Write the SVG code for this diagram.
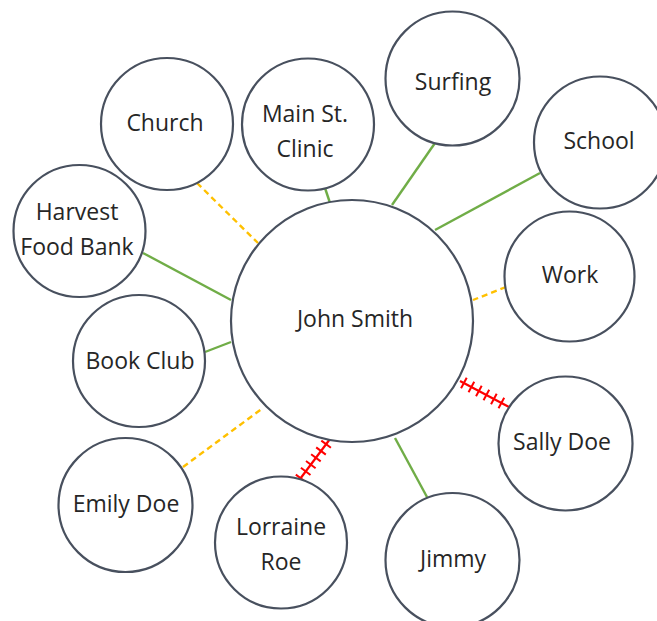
<svg xmlns="http://www.w3.org/2000/svg" width="657" height="621" viewBox="0 0 657 621">
<style>
.node circle{fill:#fff;stroke:#48505e;stroke-width:2.2}
.node text{font-family:"Open Sans","Liberation Sans",sans-serif;font-size:23px;fill:#262626;text-anchor:middle}
.green{stroke:#70ad47;stroke-width:2.4;fill:none}
.yellow{stroke:#ffc000;stroke-width:2.4;stroke-dasharray:6 4;fill:none}
.red{stroke:#ff0000;stroke-width:2.2;fill:none}
.ticks{stroke:#ff0000;stroke-width:12;stroke-dasharray:2 6.5;fill:none}
</style>
<rect width="657" height="621" fill="#fff"/>
<g id="connectors">
<line class="yellow" x1="197" y1="183" x2="258" y2="243"/>
<line class="green" x1="325" y1="188" x2="330" y2="203"/>
<line class="green" x1="435" y1="143" x2="392" y2="205"/>
<line class="green" x1="540" y1="173" x2="435" y2="230"/>
<line class="green" x1="143" y1="253" x2="231" y2="300"/>
<line class="yellow" x1="506" y1="287" x2="473" y2="300"/>
<line class="green" x1="205" y1="352" x2="231" y2="342"/>
<line class="yellow" x1="183" y1="467" x2="263" y2="408"/>
<line class="green" x1="395" y1="438" x2="427" y2="497"/>
<g id="lorraine-link">
<line class="red" x1="297" y1="483" x2="330" y2="439"/>
<line class="ticks" x1="300" y1="479" x2="327" y2="443"/>
</g>
<g id="sally-link">
<line class="red" x1="460" y1="381" x2="509" y2="407"/>
<line class="ticks" x1="463" y1="382.5" x2="506" y2="405.5"/>
</g>
</g>
<g id="john-smith" class="node"><circle cx="352" cy="321" r="121"/><text x="355" y="327">John Smith</text></g>
<g id="church" class="node"><circle cx="167" cy="124" r="66"/><text x="165" y="131">Church</text></g>
<g id="main-st-clinic" class="node"><circle cx="308" cy="124.5" r="66"/><text x="305" y="122">Main St.</text><text x="305" y="157">Clinic</text></g>
<g id="surfing" class="node"><circle cx="452.5" cy="78.5" r="67"/><text x="453" y="90">Surfing</text></g>
<g id="school" class="node"><circle cx="600" cy="142.5" r="66"/><text x="599" y="149">School</text></g>
<g id="harvest-food-bank" class="node"><circle cx="79.5" cy="231" r="66"/><text x="77" y="220">Harvest</text><text x="77" y="255">Food Bank</text></g>
<g id="work" class="node"><circle cx="569.5" cy="276.5" r="65"/><text x="570" y="283">Work</text></g>
<g id="book-club" class="node"><circle cx="139" cy="361" r="66"/><text x="140" y="369">Book Club</text></g>
<g id="sally-doe" class="node"><circle cx="565.5" cy="443.5" r="67"/><text x="562" y="450">Sally Doe</text></g>
<g id="emily-doe" class="node"><circle cx="125.5" cy="505" r="67"/><text x="126" y="512">Emily Doe</text></g>
<g id="lorraine-roe" class="node"><circle cx="281" cy="542.5" r="66"/><text x="281" y="535">Lorraine</text><text x="281" y="570">Roe</text></g>
<g id="jimmy" class="node"><circle cx="452.5" cy="560" r="67"/><text x="453" y="567">Jimmy</text></g>
</svg>
